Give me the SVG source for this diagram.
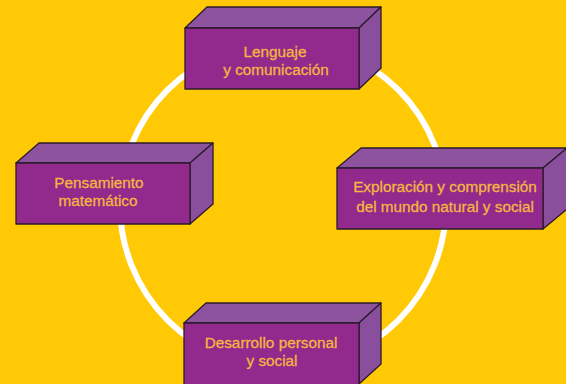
<svg xmlns="http://www.w3.org/2000/svg" width="566" height="384" viewBox="0 0 566 384">
  <style>
    .front { fill: #922a8e; stroke: #2b1a2c; stroke-width: 1.3; stroke-linejoin: round; }
    .top { fill: #8d539f; stroke: #2b1a2c; stroke-width: 1.3; stroke-linejoin: round; }
    .side { fill: #8a4f9c; stroke: #2b1a2c; stroke-width: 1.3; stroke-linejoin: round; }
    .label { font-family: "Liberation Sans", Arial, sans-serif; font-size: 15.3px; fill: #f4b63f; stroke: #f4b63f; stroke-width: 0.3; text-anchor: middle; }
    .ring { fill: none; stroke: #ffffff; stroke-width: 6; }
  </style>

  <!-- background -->
  <rect x="0" y="0" width="566" height="384" fill="#ffca05"/>

  <!-- connecting ring -->
  <g id="connectors">
    <circle class="ring" cx="283" cy="205" r="163"/>
  </g>

  <!-- top block -->
  <g id="lenguaje">
    <polygon class="top" points="185,28 207,7 381,7 359,28"/>
    <polygon class="side" points="359,28 381,7 381,68 359,89"/>
    <rect class="front" x="185" y="28" width="174" height="61"/>
    <text class="label" x="275" y="57">Lenguaje</text>
    <text class="label" x="276" y="75">y comunicación</text>
  </g>

  <!-- left block -->
  <g id="pensamiento">
    <polygon class="top" points="16,163 39,143 213,143 190,163"/>
    <polygon class="side" points="190,163 213,143 213,204 190,224"/>
    <rect class="front" x="16" y="163" width="174" height="61"/>
    <text class="label" x="99" y="188">Pensamiento</text>
    <text class="label" x="98" y="206">matemático</text>
  </g>

  <!-- right block -->
  <g id="exploracion">
    <polygon class="top" points="337,168 361,148 567,148 543,168"/>
    <polygon class="side" points="543,168 567,148 567,209 543,229"/>
    <rect class="front" x="337" y="168" width="206" height="61"/>
    <text class="label" x="445" y="192">Exploración y comprensión</text>
    <text class="label" x="445" y="212">del mundo natural y social</text>
  </g>

  <!-- bottom block -->
  <g id="desarrollo">
    <polygon class="top" points="184,323 206,303 381,303 359,323"/>
    <polygon class="side" points="359,323 381,303 381,364 359,384"/>
    <rect class="front" x="184" y="323" width="175" height="62"/>
    <text class="label" x="271" y="348">Desarrollo personal</text>
    <text class="label" x="272" y="366">y social</text>
  </g>
</svg>
